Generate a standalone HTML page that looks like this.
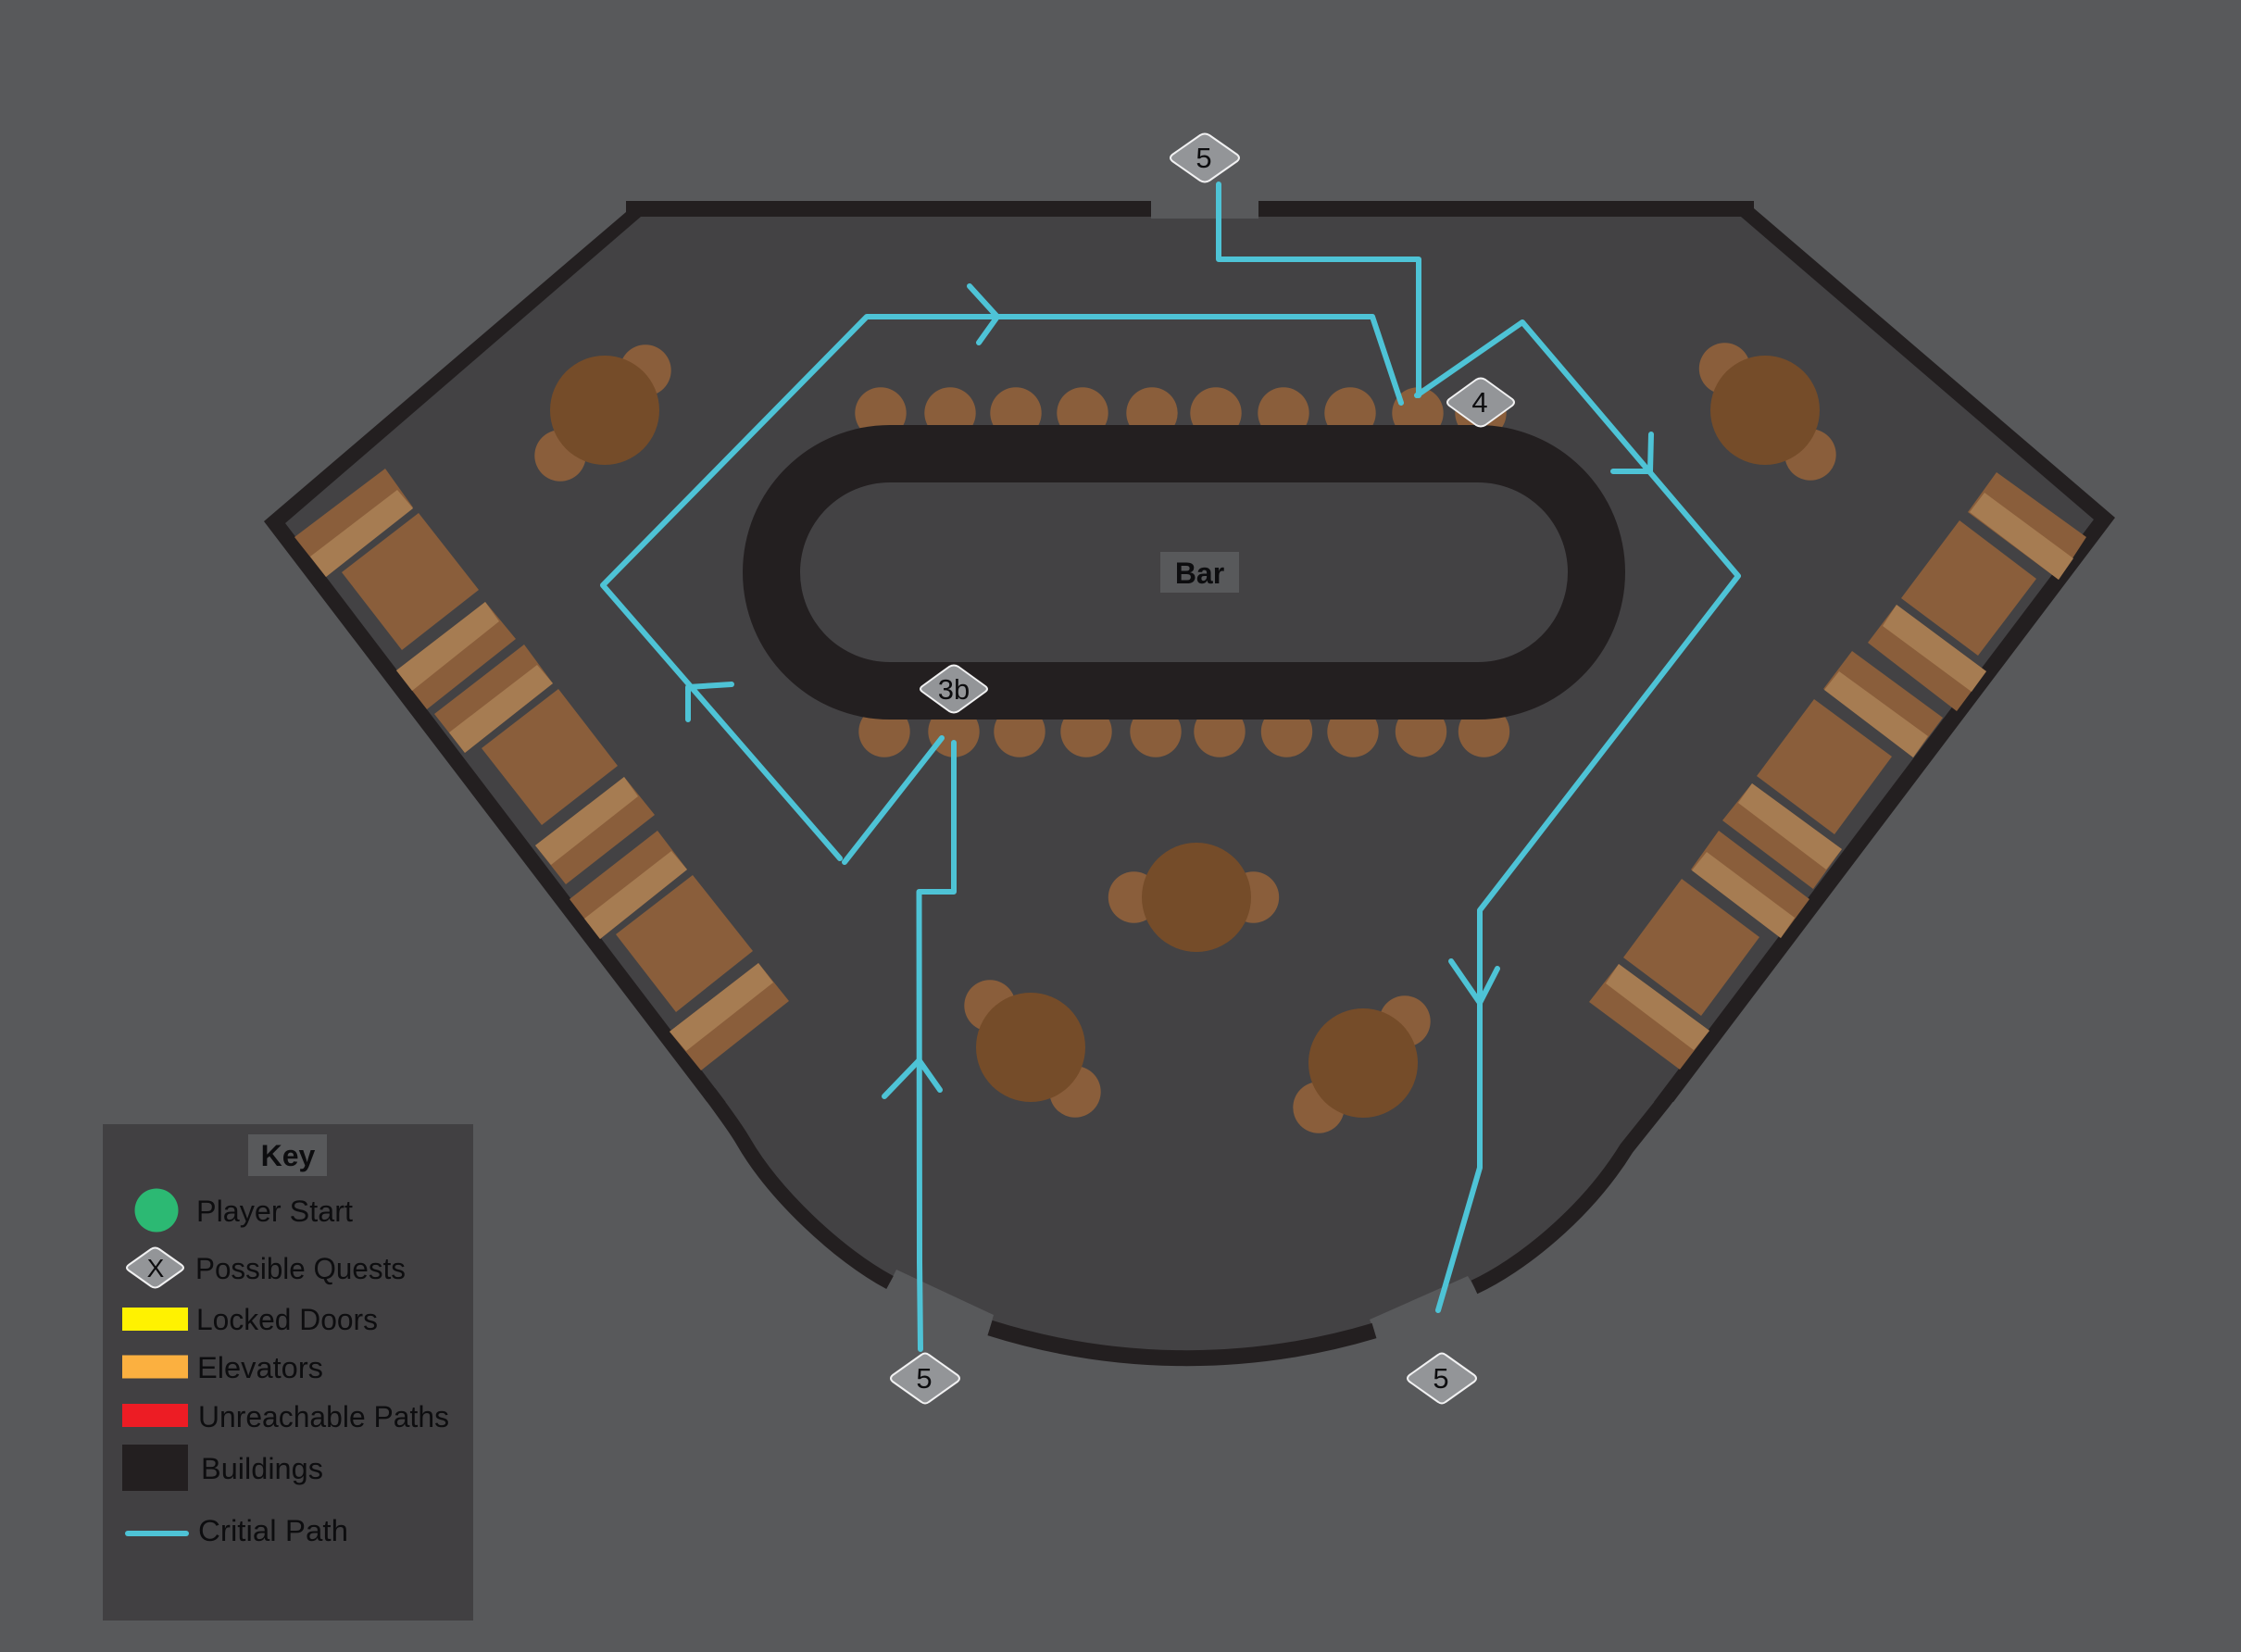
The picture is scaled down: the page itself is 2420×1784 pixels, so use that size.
<!DOCTYPE html>
<html><head><meta charset="utf-8"><style>
html,body{margin:0;padding:0;background:#58595b}
svg{display:block}
text{font-family:"Liberation Sans",sans-serif;fill:#0d0d0f}
.c{fill:none;stroke:#4ec3d6;stroke-width:6;stroke-linecap:round;stroke-linejoin:round}
.w{fill:none;stroke:#231f20;stroke-width:17}
.b{fill:#8a5e3b}.l{fill:#a67c52}.t{fill:#754c29}
.d{fill:#939598;stroke:#f1f1f2;stroke-width:2;stroke-linejoin:round}
.n{font-size:31px;text-anchor:middle}
.k{font-size:32px}
</style></head><body>
<svg width="2420" height="1784" viewBox="0 0 2420 1784" xmlns="http://www.w3.org/2000/svg">
<rect width="2420" height="1784" fill="#58595b"/>
<!-- floor -->
<path fill="#434244" d="M684,226 H1885 L2272,560 L1796.500,1190 L1756.500,1240 C1712,1312 1640,1368 1592,1390 L1588,1383 L1585,1378 L1479,1425 L1484,1437 A706,706 0 0 1 1069,1434 L1073,1420 L968,1371 L961,1385 C905,1355 836,1290 803,1233 C795,1219 785,1206 773.500,1190 L297,564 Z"/>
<!-- walls -->
<polygon fill="#231f20" points="1243,217 676,217 676,229 285,563 763.500,1190 783.500,1190 308,565 692,234 1243,234"/>
<polygon fill="#231f20" points="1359,217 1894,217 1894,225 2284,559 1807,1190 1786,1190 2261,561 1880,234 1359,234"/>
<path class="w" style="stroke-width:16" d="M766,1180 L773.500,1190 C785,1206 795,1219 803,1233 C836,1290 905,1355 961,1385"/>
<path class="w" style="stroke-width:16" d="M1804,1180 L1796.500,1190 L1756.500,1240 C1712,1312 1640,1368 1592,1390"/>
<path class="w" d="M1069,1434 A706,706 0 0 0 1484,1437"/>
<rect x="1243" y="217" width="116" height="19" fill="#58595b"/>
<!-- stools -->
<g class="b">
<circle cx="951" cy="446" r="27.700"/><circle cx="1026" cy="446" r="27.700"/><circle cx="1097" cy="446" r="27.700"/><circle cx="1169" cy="446" r="27.700"/><circle cx="1244" cy="446" r="27.700"/><circle cx="1313" cy="446" r="27.700"/><circle cx="1386" cy="446" r="27.700"/><circle cx="1458" cy="446" r="27.700"/><circle cx="1531" cy="446" r="27.700"/><circle cx="1599" cy="446" r="27.700"/>
<circle cx="955" cy="790" r="27.700"/><circle cx="1030" cy="790" r="27.700"/><circle cx="1101" cy="790" r="27.700"/><circle cx="1173" cy="790" r="27.700"/><circle cx="1248" cy="790" r="27.700"/><circle cx="1317" cy="790" r="27.700"/><circle cx="1389.500" cy="790" r="27.700"/><circle cx="1461" cy="790" r="27.700"/><circle cx="1534.500" cy="790" r="27.700"/><circle cx="1602.500" cy="790" r="27.700"/>
<circle cx="697" cy="400" r="27.700"/><circle cx="605" cy="492" r="27.700"/>
<circle cx="1862.500" cy="398" r="27.700"/><circle cx="1955" cy="491" r="27.700"/>
<circle cx="1224.500" cy="969" r="27.700"/><circle cx="1353.500" cy="969" r="27.700"/>
<circle cx="1069" cy="1086" r="27.700"/><circle cx="1161" cy="1179" r="27.700"/>
<circle cx="1517" cy="1103" r="27.700"/><circle cx="1424" cy="1196" r="27.700"/>
</g>
<g class="t">
<circle cx="653" cy="443" r="59"/><circle cx="1906" cy="443" r="59"/><circle cx="1292" cy="969" r="59"/><circle cx="1113" cy="1131" r="59"/><circle cx="1472" cy="1148" r="59"/>
</g>
<!-- bar -->
<rect x="802" y="459" width="953" height="318" rx="159" fill="#231f20"/>
<rect x="864" y="521" width="829" height="194" rx="97" fill="#434244"/>
<rect x="1253" y="596" width="85" height="44" fill="#58595b"/>
<text x="1295.500" y="630" font-size="32" font-weight="bold" text-anchor="middle">Bar</text>
<!-- left elevators -->
<g class="b">
<polygon points="416,506 446,548 352,623 318,580"/>
<polygon points="452,554 517,637 434,702 369,618"/>
<polygon points="524,650 557,690 461,766 428,724"/>
<polygon points="566,696 597,738 502,813 469,771"/>
<polygon points="603,744 667,827 585,891 520,808"/>
<polygon points="674,839 707,880 611,955 578,913"/>
<polygon points="710,897 742,939 648,1014 615,971"/>
<polygon points="748,945 813,1027 730,1093 665,1009"/>
<polygon points="819,1040 852,1081 757,1156 723,1114"/>
</g>
<g class="l">
<polygon points="429,529 446,549 352,623 335,601"/>
<polygon points="524,650 539,671 445,746 428,724"/>
<polygon points="580,718 597,738 502,813 485,791"/>
<polygon points="674,839 689,860 595,934 578,913"/>
<polygon points="725,919 742,939 648,1014 631,992"/>
<polygon points="819,1040 835,1061 741,1135 723,1114"/>
</g>
<!-- right elevators -->
<g class="b">
<polygon points="2156,510 2253,580 2223,626 2125,553"/>
<polygon points="2116,562 2199,625 2136,708 2053,646"/>
<polygon points="2048,653 2145,725 2113,768 2017,694"/>
<polygon points="2000,703 2098,775 2066,818 1969,744"/>
<polygon points="1959,755 2043,817 1981,901 1897,838"/>
<polygon points="1892,846 1989,917 1958,960 1860,886"/>
<polygon points="1856,897 1954,971 1923,1013 1826,939"/>
<polygon points="1816,949 1900,1012 1837,1097 1753,1034"/>
<polygon points="1748,1041 1846,1113 1814,1155 1716,1082"/>
</g>
<g class="l">
<polygon points="2143,532 2239,603 2223,626 2127,553"/>
<polygon points="2048,653 2145,725 2129,747 2033,676"/>
<polygon points="1986,725 2082,795 2066,818 1970,745"/>
<polygon points="1892,846 1989,917 1972,939 1877,867"/>
<polygon points="1843,920 1938,991 1923,1013 1827,940"/>
<polygon points="1748,1041 1846,1113 1829,1134 1734,1062"/>
</g>
<!-- critical path -->
<polyline class="c" points="1316,199 1316,280 1532,280 1532,427"/>
<polyline class="c" points="1530,427 1644,348 1877,622 1598,983 1598,1261 1553,1415"/>
<polyline class="c" points="1513,435 1482,342 936,342 651,632 907,927"/>
<polyline class="c" points="912,931 1017,797"/>
<polyline class="c" points="1030,802 1030,963 992.500,963 993,1363 994,1457"/>
<polyline class="c" points="1047,309 1077,342 1057,370"/>
<polyline class="c" points="790,739 743,742 743,777"/>
<polyline class="c" points="1783,469 1782,509 1742,509"/>
<polyline class="c" points="1567,1038 1598,1083 1617,1046"/>
<polyline class="c" points="955,1184 992.500,1145 1015,1177"/>
<!-- quest markers -->
<path class="d" d="M1296,146 Q1301,143 1306,146 L1336,167 Q1340,170.500 1336,174 L1306,195 Q1301,198 1296,195 L1266,174 Q1262,170.500 1266,167 Z"/>
<text class="n" x="1300" y="181">5</text>
<path class="d" d="M1594,410 Q1599,407 1604,410 L1633,431 Q1637,434.500 1633,438 L1604,459 Q1599,462 1594,459 L1565,438 Q1561,434.500 1565,431 Z"/>
<text class="n" x="1598" y="445">4</text>
<path class="d" d="M1025,720 Q1030,717 1035,720 L1064,741 Q1068,744 1064,747 L1035,768 Q1030,771 1025,768 L996,747 Q992,744 996,741 Z"/>
<text class="n" x="1030" y="755">3b</text>
<path class="d" d="M995,1463 Q999,1460 1003,1463 L1034,1485 Q1038,1488.500 1034,1492 L1003,1514 Q999,1517 995,1514 L964,1492 Q960,1488.500 964,1485 Z"/>
<text class="n" x="998" y="1499">5</text>
<path class="d" d="M1553,1463 Q1557,1460 1561,1463 L1592,1485 Q1596,1488.500 1592,1492 L1561,1514 Q1557,1517 1553,1514 L1522,1492 Q1518,1488.500 1522,1485 Z"/>
<text class="n" x="1556" y="1499">5</text>
<!-- key -->
<rect x="111" y="1214" width="400" height="536" fill="#414042"/>
<rect x="268" y="1225" width="85" height="45" fill="#58595b"/>
<text x="311" y="1259" font-size="32" font-weight="bold" text-anchor="middle">Key</text>
<circle cx="169" cy="1307" r="23.500" fill="#2cb973"/>
<text class="k" x="212" y="1319" textLength="169" lengthAdjust="spacingAndGlyphs">Player Start</text>
<path class="d" d="M163,1349 Q167.500,1346 172,1349 L196,1366 Q200,1369 196,1372 L172,1389 Q167.500,1392 163,1389 L139,1372 Q135,1369 139,1366 Z"/>
<text x="168" y="1379" font-size="28" text-anchor="middle">X</text>
<text class="k" x="211" y="1381" textLength="227" lengthAdjust="spacingAndGlyphs">Possible Quests</text>
<rect x="132" y="1412" width="71" height="25" fill="#fff200"/>
<text class="k" x="212" y="1436" textLength="196" lengthAdjust="spacingAndGlyphs">Locked Doors</text>
<rect x="132" y="1463.500" width="71" height="25" fill="#fbb040"/>
<text class="k" x="213" y="1488" textLength="136" lengthAdjust="spacingAndGlyphs">Elevators</text>
<rect x="132" y="1516" width="71" height="25" fill="#ed1c24"/>
<text class="k" x="214" y="1541" textLength="271" lengthAdjust="spacingAndGlyphs">Unreachable Paths</text>
<rect x="132" y="1560" width="71" height="50" fill="#231f20"/>
<text class="k" x="217" y="1597" textLength="132" lengthAdjust="spacingAndGlyphs">Buildings</text>
<line class="c" x1="138" y1="1656" x2="201" y2="1656"/>
<text class="k" x="214" y="1664" textLength="162" lengthAdjust="spacingAndGlyphs">Critial Path</text>
</svg>
</body></html>
